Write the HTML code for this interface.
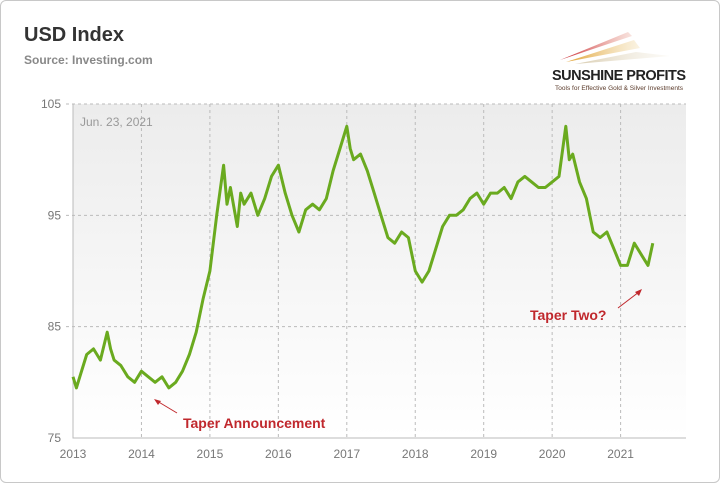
<!DOCTYPE html>
<html><head><meta charset="utf-8"><style>
body{margin:0;background:#fff;font-family:"Liberation Sans",sans-serif}
#card{position:absolute;left:0;top:0;width:718px;height:481px;border:1px solid #c8c8c8;border-radius:6px;background:#fff}
</style></head><body>
<div id="card">
<svg id="chart" width="720" height="483" style="position:absolute;left:-1px;top:-1px">
<defs>
<linearGradient id="bg" x1="0" y1="0" x2="0" y2="1"><stop offset="0" stop-color="#ececec"/><stop offset="1" stop-color="#ffffff"/></linearGradient>
<linearGradient id="r1" x1="0" x2="1"><stop offset="0" stop-color="#c8202a"/><stop offset="1" stop-color="#e8a090" stop-opacity="0.3"/></linearGradient>
<linearGradient id="r2" x1="0" x2="1"><stop offset="0" stop-color="#e0a030"/><stop offset="1" stop-color="#f0d8a0" stop-opacity="0.3"/></linearGradient>
<linearGradient id="r3" x1="0" x2="1"><stop offset="0" stop-color="#d8ccb0"/><stop offset="1" stop-color="#f4efe4" stop-opacity="0.3"/></linearGradient>
</defs>
<text x="24" y="41" font-size="20" font-weight="bold" fill="#333">USD Index</text>
<text x="24" y="64" font-size="12" font-weight="bold" fill="#888">Source: Investing.com</text>
<g>
<polygon points="560,60 628,32 632,36" fill="url(#r1)"/>
<polygon points="566,62 634,40 640,48" fill="url(#r2)"/>
<polygon points="575,64 636,52 670,56" fill="url(#r3)"/>
<text x="552" y="80" font-size="14.5" font-weight="bold" fill="#222" textLength="134">SUNSHINE PROFITS</text>
<text x="555" y="90" font-size="6.5" fill="#5a3a2a" textLength="128">Tools for Effective Gold &amp; Silver Investments</text>
</g>
<rect x="73" y="104" width="613" height="334" fill="url(#bg)"/>
<g id="grid"></g>
<g id="axes"></g>
<text x="80" y="126" font-size="12" fill="#999">Jun. 23, 2021</text>
<path id="line" fill="none" stroke="#6aaa1f" stroke-width="3" stroke-linejoin="round"/>
<g>
<line x1="177" y1="413" x2="157" y2="401" stroke="#c0282d" stroke-width="1"/>
<polygon points="154,399 161,401 158,405" fill="#c0282d"/>
<text x="183" y="428" font-size="14" font-weight="bold" fill="#c0282d">Taper Announcement</text>
</g>
<g>
<line x1="618" y1="308" x2="639" y2="292" stroke="#c0282d" stroke-width="1"/>
<polygon points="642,289 635,292 639,296" fill="#c0282d"/>
<text x="530" y="320" font-size="14" font-weight="bold" fill="#c0282d">Taper Two?</text>
</g>
</svg>
</div>
<script>
const years=[2013,2014,2015,2016,2017,2018,2019,2020,2021];
const yTicks=[75,85,95,105];
const dates=[2013.0,2013.05,2013.1,2013.2,2013.3,2013.4,2013.5,2013.55,2013.6,2013.7,2013.8,2013.9,2014.0,2014.1,2014.2,2014.3,2014.4,2014.5,2014.6,2014.7,2014.8,2014.9,2015.0,2015.1,2015.2,2015.25,2015.3,2015.4,2015.45,2015.5,2015.6,2015.7,2015.8,2015.9,2016.0,2016.1,2016.2,2016.3,2016.4,2016.5,2016.6,2016.7,2016.8,2016.9,2017.0,2017.05,2017.1,2017.2,2017.3,2017.4,2017.5,2017.6,2017.7,2017.8,2017.9,2018.0,2018.1,2018.2,2018.3,2018.4,2018.5,2018.6,2018.7,2018.8,2018.9,2019.0,2019.1,2019.2,2019.3,2019.4,2019.5,2019.6,2019.7,2019.8,2019.9,2020.0,2020.1,2020.2,2020.25,2020.3,2020.4,2020.5,2020.6,2020.7,2020.8,2020.9,2021.0,2021.1,2021.2,2021.3,2021.4,2021.47];
const values=[80.5,79.5,80.5,82.5,83,82,84.5,83,82,81.5,80.5,80,81,80.5,80,80.5,79.5,80,81,82.5,84.5,87.5,90,95,99.5,96,97.5,94,97,96,97,95,96.5,98.5,99.5,97,95,93.5,95.5,96,95.5,96.5,99,101,103,101,100,100.5,99,97,95,93,92.5,93.5,93,90,89,90,92,94,95,95,95.5,96.5,97,96,97,97,97.5,96.5,98,98.5,98,97.5,97.5,98,98.5,103,100,100.5,98,96.5,93.5,93,93.5,92,90.5,90.5,92.5,91.5,90.5,92.5];
const X=d=>73+(d-2013)*68.45, Y=v=>438-(v-75)*334/30;
const ns="http://www.w3.org/2000/svg";
const grid=document.getElementById('grid'), axes=document.getElementById('axes');
years.forEach(yr=>{
 if(yr>2013){const l=document.createElementNS(ns,'line');
 
 
 l.setAttribute('x1',X(yr));l.setAttribute('x2',X(yr));l.setAttribute('y1',104);l.setAttribute('y2',438);
 l.setAttribute('stroke','#bbb');l.setAttribute('stroke-dasharray','3,3');grid.appendChild(l);}
 const t=document.createElementNS(ns,'text');
 
 
 t.setAttribute('x',X(yr));t.setAttribute('y',458);t.setAttribute('text-anchor','middle');
 t.setAttribute('font-size','12');t.setAttribute('fill','#777');t.textContent=yr;axes.appendChild(t);
});
yTicks.forEach(v=>{
 if(v>75){const l=document.createElementNS(ns,'line');
 
 
 l.setAttribute('x1',66);l.setAttribute('x2',686);l.setAttribute('y1',Y(v));l.setAttribute('y2',Y(v));
 l.setAttribute('stroke','#bbb');l.setAttribute('stroke-dasharray','3,3');grid.appendChild(l);}
 const t=document.createElementNS(ns,'text');
 
 
 t.setAttribute('x',61);t.setAttribute('y',Y(v)+4);t.setAttribute('text-anchor','end');
 t.setAttribute('font-size','12');t.setAttribute('fill','#777');t.textContent=v;axes.appendChild(t);
});
const ax=document.createElementNS(ns,'path');


ax.setAttribute('d','M73,104V438H686');ax.setAttribute('stroke','#bbb');ax.setAttribute('fill','none');axes.appendChild(ax);
document.getElementById('line').setAttribute('d',dates.map((d,i)=>(i?'L':'M')+X(d).toFixed(1)+','+Y(values[i]).toFixed(1)).join(''));
</script>
</body></html>
